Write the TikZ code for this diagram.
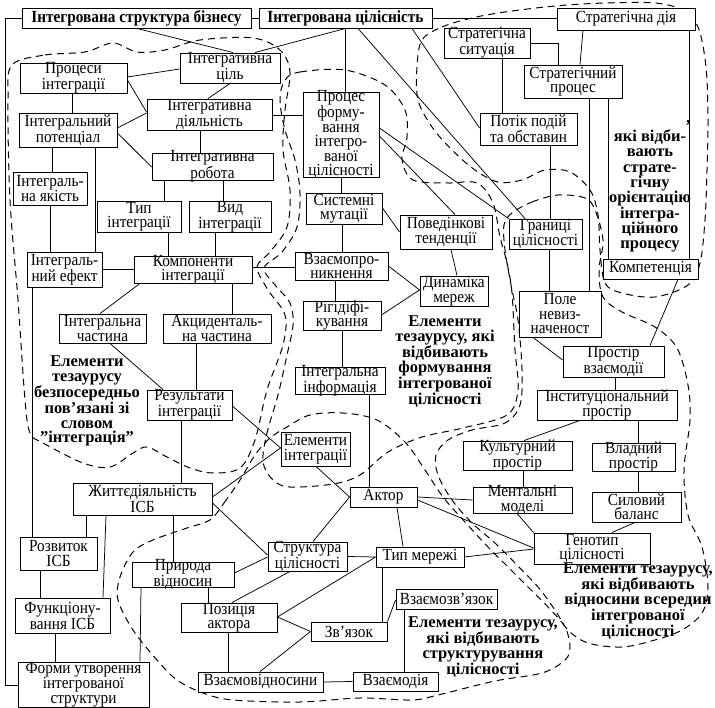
\documentclass[tikz,border=0pt]{standalone}
\usepackage{fontspec}
\setmainfont{Liberation Serif}
\newfontfamily\boxfont{Liberation Serif}[FakeStretch=0.9]
\usetikzlibrary{calc}
\newcommand\fsz{\boxfont\fontsize{17}{14.5}\selectfont}
\newcommand\fbd{\fontsize{16.5}{14.5}\selectfont\bfseries}
\begin{document}
\begin{tikzpicture}[x=1pt,y=-1pt,
 bx/.style={draw, line width=0.9pt, inner xsep=0pt, inner ysep=-3pt, align=center, font=\fsz, fill=white},
 lbl/.style={inner sep=0pt, align=center, font=\fbd},
 ln/.style={line width=0.75pt},
 rg/.style={line width=1pt, dash pattern=on 7pt off 5pt},
]
\useasboundingbox (0,0) rectangle (715,708);
\fill[white] (0,0) rectangle (715,708);

% dashed regions
% A: elements directly related to "integration"
\draw[rg] plot[smooth cycle, tension=0.55] coordinates {(12,65) (45,55) (85,52) (113,43) (137,52) (165,50) (200,40) (253,38) (280,50) (290,72) (285,110) (283,150) (290,190) (287,227) (270,252) (257,267) (268,290) (285,315) (283,345) (267,390) (255,440) (240,468) (213,473) (190,468) (167,457) (147,447) (133,453) (110,467) (83,463) (43,443) (30,433) (25,400) (18,300) (10,200) (8,100)};
% B: formation of integrated wholeness
\draw[rg] plot[smooth cycle, tension=0.55] coordinates {(285,80) (300,72) (345,70) (385,85) (405,110) (407,137) (402,160) (413,180) (447,183) (477,183) (493,203) (500,237) (507,263) (512,293) (515,350) (518,390) (507,415) (463,428) (422,437) (388,452) (360,475) (333,484) (290,487) (273,480) (263,462) (267,433) (278,395) (287,355) (293,325) (290,303) (275,285) (264,268) (282,252) (297,227) (300,193) (295,160) (285,130) (280,100)};
% E: strategic orientation
\draw[rg] plot[smooth cycle, tension=0.55] coordinates {(422,40) (442,27) (472,18) (505,12) (555,6) (605,3) (655,3) (682,10) (698,27) (706,67) (708,120) (707,170) (705,220) (700,263) (688,285) (655,297) (622,293) (605,283) (600,250) (598,215) (590,190) (570,172) (545,170) (522,180) (498,182) (475,170) (452,150) (432,127) (418,100) (417,67)};
% C: relations within integrated wholeness
\draw[rg] plot[smooth cycle, tension=0.55] coordinates {(512,213) (532,202) (558,195) (585,198) (595,210) (603,240) (599,270) (603,297) (622,312) (655,327) (677,348) (688,385) (690,420) (684,470) (688,515) (702,547) (708,587) (702,613) (682,630) (655,640) (622,647) (588,643) (568,630) (555,610) (538,587) (515,563) (495,543) (472,523) (452,500) (438,475) (436,455) (448,440) (472,430) (505,423) (520,405) (522,370) (518,320) (511,285) (505,250) (504,225)};
% D: structuring of wholeness
\draw[rg] plot[smooth cycle, tension=0.55] coordinates {(210,520) (224,503) (240,480) (255,455) (270,438) (287,427) (310,415) (343,413) (377,420) (405,442) (425,470) (443,497) (465,522) (488,547) (508,567) (528,587) (548,607) (565,627) (570,647) (565,660) (542,673) (495,681) (438,695) (412,700) (360,698) (300,702) (233,700) (203,693) (177,680) (157,660) (133,630) (118,600) (120,577) (133,552) (153,540) (187,528)};

% nodes
\node[bx, minimum width=229pt, minimum height=20pt] (ISB) at (136.5,18) {\bfseries Інтегрована структура бізнесу};
\node[bx, minimum width=173pt, minimum height=20pt] (IC) at (345.5,18) {\bfseries Інтегрована цілісність};
\node[bx, minimum width=138pt, minimum height=22pt] (SD) at (626,19) {Стратегічна дія};
\node[bx, minimum width=86pt, minimum height=30pt] (SS) at (487,43) {Стратегічна\\ситуація};
\node[bx, minimum width=98pt, minimum height=33pt] (SP) at (573,81.5) {Стратегічний\\процес};
\node[bx, minimum width=97pt, minimum height=32pt] (PPO) at (528.5,129) {Потік подій\\та обставин};
\node[bx, minimum width=107pt, minimum height=30pt] (PI) at (73.5,78) {Процеси\\інтеграції};
\node[bx, minimum width=100pt, minimum height=30pt] (CIL) at (230,68) {Інтегративна\\ціль};
\node[bx, minimum width=98pt, minimum height=34pt] (POT) at (68,130) {Інтегральний\\потенціал};
\node[bx, minimum width=125pt, minimum height=31pt] (DIY) at (209.5,114.5) {Інтегративна\\діяльність};
\node[bx, minimum width=121pt, minimum height=27pt] (ROB) at (212.5,166.5) {Інтегративна\\робота};
\node[bx, minimum width=76pt, minimum height=85pt] (PFC) at (341,134.5) {Процес\\форму-\\вання\\інтегро-\\ваної\\цілісності};
\node[bx, minimum width=74pt, minimum height=33pt] (YAK) at (50,188.5) {Інтеграль-\\на якість};
\node[bx, minimum width=84pt, minimum height=31pt] (TYP) at (139,216.5) {Тип\\інтеграції};
\node[bx, minimum width=82pt, minimum height=31pt] (VID) at (230,216.5) {Вид\\інтеграції};
\node[bx, minimum width=75pt, minimum height=35pt] (EF) at (64.5,269.5) {Інтеграль-\\ний ефект};
\node[bx, minimum width=118pt, minimum height=27pt] (KOM) at (193,269.5) {Компоненти\\інтеграції};
\node[bx, minimum width=76pt, minimum height=31pt] (SM) at (344,208.5) {Системні\\мутації};
\node[bx, minimum width=92pt, minimum height=34pt] (PT) at (446,232) {Поведінкові\\тенденції};
\node[bx, minimum width=73pt, minimum height=30pt] (GR) at (545.5,234) {Границі\\цілісності};
\node[bx, minimum width=93pt, minimum height=28pt] (VZP) at (341.5,266) {Взаємопро-\\никнення};
\node[bx, minimum width=68pt, minimum height=30pt] (DM) at (454,291) {Динаміка\\мереж};
\node[bx, minimum width=78pt, minimum height=29pt] (RIG) at (342,315.5) {Рігідіфі-\\кування};
\node[bx, minimum width=87pt, minimum height=29pt] (ICH) at (102.5,328.5) {Інтегральна\\частина};
\node[bx, minimum width=108pt, minimum height=29pt] (ACH) at (217,328.5) {Акциденталь-\\на частина};
\node[bx, minimum width=82pt, minimum height=46pt] (POLE) at (560,314) {Поле\\невиз-\\наченост};
\node[bx, minimum width=95pt, minimum height=20pt] (KOMP) at (650.5,269) {Компетенція};
\node[bx, minimum width=101pt, minimum height=31pt] (PV) at (613.5,361.5) {Простір\\взаємодії};
\node[bx, minimum width=140pt, minimum height=30pt] (INST) at (607,405) {Інституціональний\\простір};
\node[bx, minimum width=90pt, minimum height=27pt] (INF) at (340,380.5) {Інтегральна\\інформація};
\node[bx, minimum width=85pt, minimum height=30pt] (RES) at (189.5,405) {Результати\\інтеграції};
\node[bx, minimum width=69pt, minimum height=34pt] (EI) at (315.5,449) {Елементи\\інтеграції};
\node[bx, minimum width=109pt, minimum height=29pt] (KUL) at (517.5,455.5) {Культурний\\простір};
\node[bx, minimum width=83pt, minimum height=28pt] (VLA) at (633.5,457) {Владний\\простір};
\node[bx, minimum width=67pt, minimum height=20pt] (AKT) at (383.5,497) {Актор};
\node[bx, minimum width=99pt, minimum height=26pt] (MEN) at (522.5,500) {Ментальні\\моделі};
\node[bx, minimum width=89pt, minimum height=30pt] (SIL) at (636.5,507) {Силовий\\баланс};
\node[bx, minimum width=139pt, minimum height=32pt] (ZH) at (142.5,499) {Життєдіяльність\\ІСБ};
\node[bx, minimum width=77pt, minimum height=33pt] (ROZ) at (58.5,553.5) {Розвиток\\ІСБ};
\node[bx, minimum width=79pt, minimum height=29pt] (STR) at (307.5,556.5) {Структура\\цілісності};
\node[bx, minimum width=88pt, minimum height=20pt] (TM) at (420,557) {Тип мережі};
\node[bx, minimum width=116pt, minimum height=31pt] (GEN) at (592,548.5) {Генотип\\цілісності};
\node[bx, minimum width=102pt, minimum height=25pt] (PRV) at (183,574.5) {Природа\\відносин};
\node[bx, minimum width=95pt, minimum height=35pt] (FUN) at (62.5,615.5) {Функціону-\\вання ІСБ};
\node[bx, minimum width=96pt, minimum height=29pt] (POZ) at (229,617.5) {Позиція\\актора};
\node[bx, minimum width=101pt, minimum height=20pt] (VZZ) at (446.5,599) {Взаємозв’язок};
\node[bx, minimum width=76pt, minimum height=19pt] (ZV) at (349,631.5) {Зв’язок};
\node[bx, minimum width=131pt, minimum height=45pt] (FORM) at (83.5,684.5) {Форми утворення\\інтегрованої\\структури};
\node[bx, minimum width=125pt, minimum height=20pt] (VZV) at (260.5,682) {Взаємовідносини};
\node[bx, minimum width=85pt, minimum height=19pt] (VZD) at (395.5,681.5) {Взаємодія};

% labels
\node[lbl] (T1) at (87,401) {Елементи\\тезаурусу\\безпосередньо\\пов’язані зі\\словом\\"інтеграція"};
\node[lbl] (T2) at (445,361.5) {Елементи\\тезаурусу, які\\відбивають\\формування\\інтегрованої\\цілісності};
\node[lbl, font=\fontsize{16.5}{15.3}\selectfont\bfseries] (T3) at (650,191) {які відби-\\вають\\страте-\\гічну\\орієнтацію\\інтегра-\\ційного\\процесу};
\node[lbl] (T3a) at (688,126) {’};
\node[lbl] (T4) at (638,601) {Елементи тезаурусу,\\які відбивають\\відносини всередин\\інтегрованої\\цілісності};
\node[lbl] (T5) at (483,647) {Елементи тезаурусу,\\які відбивають\\структурування\\цілісності};

% connectors
\begin{scope}[ln]
\draw (ISB.west) -- (ISB.west -| 5,0) -- (5,685) -- (FORM.west |- 0,685);
\draw (ISB.east) -- (IC.west);
\draw (IC.east) -- (SD.west |- IC.east);
\draw (ISB.south -| 137,0) -- (CIL.north -| 233,0);
\draw (IC.south) -- (CIL.north -| 255,0);
\draw (IC.south -| 345,0) -- (PFC.north -| 345,0);
\draw (IC.south -| 358,0) -- (GR.north -| 525,0);
\draw (IC.south -| 412,0) -- (PPO.west |- 0,128);
\draw (SD.south -| 689,0) -- (KOMP.north -| 689,0);
\draw (SD.south -| 583,0) -- (SP.north -| 580,0);
\draw (SS.east) -| (SP.north -| 558,0);
\draw (SS.south -| 502,0) -- (PPO.north -| 502,0);
\draw (SP.south -| 589,0) -- (POLE.north -| 589,0);
\draw (SP.south -| 608,0) -- (KOMP.north -| 608,0);
\draw (PPO.south -| 550,0) -- (GR.north -| 550,0);
\draw (GR.south -| 549,0) -- (POLE.north -| 549,0);
\draw (POLE.south -| 533,0) -- (PV.west |- 0,360);
\draw (KOMP.south -| 678,0) -- (PV.north -| 650,0);
\draw (PV.south -| 615,0) -- (INST.north -| 615,0);
\draw (INST.south -| 580,0) -- (KUL.north -| 524,0);
\draw (INST.south -| 638,0) -- (VLA.north -| 638,0);
\draw (VLA.south -| 638,0) -- (SIL.north -| 638,0);
\draw (KUL.south -| 523,0) -- (MEN.north -| 523,0);
\draw (SIL.south -| 635,0) -- (GEN.north -| 612,0);
\draw (MEN.south -| 517,0) -- (GEN.north west);
\draw (AKT.east) -- (MEN.west);
\draw (AKT.east |- 0,500) -- (GEN.west |- 0,548);
\draw (TM.east) -- (GEN.west |- 0,549);
\draw (AKT.south -| 397,0) -- (TM.north -| 403,0);
\draw (INF.south -| 369,0) -- (AKT.north -| 369,0);
\draw (EI.south -| 316,0) -- (AKT.west);
\draw (AKT.west) -- (STR.north -| 313,0);
\draw (RES.east |- 0,406) -- (EI.west |- 0,448);
\draw (ZH.east |- 0,497) -- (EI.west |- 0,448);
\draw (ZH.east |- 0,503) -- (STR.west |- 0,555);
\draw (PRV.east |- 0,573) -- (STR.west |- 0,557);
\draw (STR.east) -- (TM.west);
\draw (STR.south -| 290,0) -- (POZ.north -| 232,0);
\draw (POZ.east |- 0,617) -- (TM.west);
\draw (POZ.east |- 0,617) -- (ZV.west);
\draw (PRV.south -| 208,0) -- (POZ.north -| 208,0);
\draw (POZ.south -| 228,0) -- (VZV.north -| 228,0);
\draw (ZV.west) -- (VZV.north -| 260,0);
\draw (VZV.east) -- (VZD.west);
\draw (TM.south -| 382,0) -- (ZV.north -| 382,0);
\draw (ZV.north east) -- (VZZ.west |- 0,600);
\draw (VZZ.south -| 404,0) -- (VZD.north -| 404,0);
\draw (PRV.south -| 141,0) -- (FORM.north -| 140,0);
\draw (ZH.south -| 173,0) -- (PRV.north -| 173,0);
\draw (ZH.south -| 86,0) -- (ROZ.north -| 86,0);
\draw (ZH.south -| 106,0) -- (FUN.north -| 103,0);
\draw (EF.south -| 32,0) -- (ROZ.north -| 32,0);
\draw (ROZ.south -| 40,0) -- (FUN.north -| 40,0);
\draw (FUN.south -| 55,0) -- (FORM.north -| 55,0);
\draw (RES.south -| 181,0) -- (ZH.north -| 181,0);
\draw (ACH.south -| 196,0) -- (RES.north -| 196,0);
\draw (ICH.south -| 110,0) -- (RES.north -| 163,0);
\draw (KOM.south -| 140,0) -- (ICH.north -| 100,0);
\draw (KOM.south -| 232,0) -- (ACH.north -| 232,0);
\draw (EF.east) -- (KOM.west);
\draw (KOM.east |- 0,267) -- (VZP.west |- 0,267);
\draw (TYP.south -| 168,0) -- (KOM.north -| 168,0);
\draw (VID.south -| 215,0) -- (KOM.north -| 215,0);
\draw (ROB.south -| 164,0) -- (TYP.north -| 164,0);
\draw (ROB.south -| 223,0) -- (VID.north -| 223,0);
\draw (DIY.south -| 200,0) -- (ROB.north -| 200,0);
\draw (POT.east |- 0,128) -- (DIY.west |- 0,113);
\draw (POT.east |- 0,133) -- (ROB.west |- 0,167);
\draw (PI.east |- 0,80) -- (DIY.west |- 0,112);
\draw (PI.east |- 0,77) -- (CIL.west |- 0,69);
\draw (CIL.south -| 230,0) -- (DIY.north -| 208,0);
\draw (PI.south -| 72,0) -- (POT.north -| 72,0);
\draw (POT.south -| 52,0) -- (YAK.north -| 52,0);
\draw (POT.south -| 95,0) -- (EF.north -| 95,0);
\draw (YAK.south -| 50,0) -- (EF.north -| 50,0);
\draw (DIY.east |- 0,115) -- (PFC.west |- 0,115);
\draw (PFC.south -| 341,0) -- (SM.north -| 341,0);
\draw (PFC.east |- 0,128) -- (GR.north west);
\draw (PFC.east |- 0,136) -- (PT.north -| 455,0);
\draw (SM.south -| 342,0) -- (VZP.north -| 342,0);
\draw (SM.east |- 0,208) -- (PT.west |- 0,232);
\draw (PT.south -| 451,0) -- (DM.north -| 457,0);
\draw (VZP.east |- 0,266) -- (DM.west |- 0,290);
\draw (RIG.east |- 0,315) -- (DM.west |- 0,290);
\draw (VZP.south -| 335,0) -- (RIG.north -| 335,0);
\draw (RIG.south -| 342,0) -- (INF.north -| 342,0);
\end{scope}
\end{tikzpicture}
\end{document}
